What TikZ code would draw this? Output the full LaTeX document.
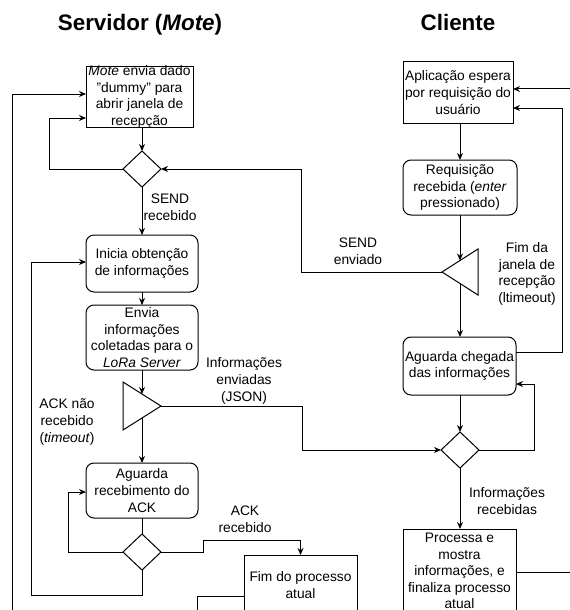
\documentclass[tikz,border=0pt]{standalone}
\usepackage{fontspec}
\setmainfont{Liberation Sans}
\usetikzlibrary{shapes.geometric,arrows.meta,calc}
\begin{document}
\begin{tikzpicture}[x=0.75pt,y=-0.75pt,
  flow/.style={line width=0.75pt,draw=black},
  arr/.style={flow,-{Stealth[length=5.25pt,width=4.5pt]}},
  sz/.style 2 args={minimum width=#1*0.75pt,minimum height=#2*0.75pt},
  sqbox/.style={rectangle,draw,line width=0.75pt,fill=white,inner sep=0pt,outer sep=0pt},
  rbox/.style={sqbox,rounded corners=6pt},
  dec/.style={diamond,draw,line width=0.75pt,fill=white,inner sep=0pt,outer sep=0pt,sz={38}{36}},
  tri/.style={isosceles triangle,isosceles triangle stretches,draw,line width=0.75pt,
    fill=white,inner sep=0pt,outer sep=0pt},
  txt/.style={align=center,font=\fontsize{10.35}{12.45}\selectfont,inner sep=0pt},
  ttl/.style={font=\fontsize{16.8}{20}\selectfont\bfseries,inner sep=0pt}]
\useasboundingbox (0,0) rectangle (570,610);
\clip (0,0) rectangle (570,610);

% column titles
\node[ttl,anchor=base] (tserv) at (140,31) {Servidor (\textit{Mote})};
\node[ttl,anchor=base] (tcli) at (458,31) {Cliente};

% server side
\node[sqbox,sz={107}{60}] (b1) at (139.5,97) {};
\node[txt] (b1t) at (b1) {\textit{Mote} envia dado\\"dummy" para\\abrir janela de\\recepção};
\node[dec] (d1) at (142,169) {};
\node[rbox,sz={112}{57}] (b2) at (142,263.5) {};
\node[txt] (b2t) at (b2) {Inicia obtenção\\de informações};
\node[rbox,sz={112}{65}] (b3) at (142,337.5) {};
\node[txt] (b3t) at (b3) {Envia\\informações\\coletadas para o\\\textit{LoRa Server}};
\node[tri,shape border rotate=0,minimum height=38*0.75pt,minimum width=48*0.75pt,anchor=apex] (t2) at (161,406) {};
\node[rbox,sz={112}{55}] (b4) at (142,490.5) {};
\node[txt] (b4t) at (b4) {Aguarda\\recebimento do\\ACK};
\node[dec] (d4) at (142,552) {};
\node[sqbox,sz={113}{60}] (b5) at (300.5,585) {};
\node[txt] (b5t) at (b5) {Fim do processo\\atual};

% client side
\node[sqbox,sz={110}{61}] (bA) at (458,92.5) {};
\node[txt] (bAt) at (bA) {Aplicação espera\\por requisição do\\usuário};
\node[rbox,sz={114}{55}] (bB) at (460,187.5) {};
\node[txt] (bBt) at (bB) {Requisição\\recebida (\textit{enter}\\pressionado)};
\node[tri,shape border rotate=180,minimum height=36*0.75pt,minimum width=46*0.75pt,anchor=apex] (t1) at (442,272) {};
\node[rbox,sz={113}{58}] (bC) at (459.5,366) {};
\node[txt] (bCt) at (bC) {Aguarda chegada\\das informações};
\node[dec] (d3) at (460,450) {};
\node[sqbox,sz={113}{84}] (bD) at (459.5,571) {};
\node[txt] (bDt) at (bD) {Processa e\\mostra\\informações, e\\finaliza processo\\atual};

% free ends at the picture border
\coordinate (lbot) at (12,625);
\coordinate (mbot) at (197,625);
\coordinate (redge1) at (580,89);
\coordinate (redge2) at (580,572);

% server connectors
\draw[arr] (b1.south -| d1.north) -- (d1.north);
\draw[arr] (d1.west) -| ($(b1.west)+(-37,21)$) -- ($(b1.west)+(0,21)$);
\draw[arr] (d1.south) -- (b2.north);
\draw[arr] (t1.apex) -| ($(d1.east)+(140,0)$) -- (d1.east);
\draw[arr] (b2.south) -- (b3.north);
\draw[arr] (b3.south) -- (b3.south |- t2.left side);
\draw[arr] (b4.north |- t2.right side) -- (b4.north);
\draw[arr] (t2.apex) -| ($(d3.west)+(-139,0)$) -- (d3.west);
\draw[flow] (b4.south) -- (d4.north);
\draw[arr] (d4.west) -| ($(b4.west)+(-18,1.5)$) -- ($(b4.west)+(0,1.5)$);
\draw[arr] (d4.south) -- ++(0,25) -| ($(b2.west)+(-55,-1.5)$) -- ($(b2.west)+(0,-1.5)$);
\draw[arr] (d4.east) -- ++(42,0) |- ($(b5.north)+(0,-15)$) -- (b5.north);
\draw[arr] (lbot) |- ($(b1.west)+(0,-3)$);
\draw[flow] (mbot) |- ($(b5.west)+(0,11)$);

% client connectors
\draw[arr] (redge1) -- (redge1 -| bA.east);
\draw[arr] ($(bC.east)+(0,-14)$) -| ($(bA.east)+(49,15.5)$) -- ($(bA.east)+(0,15.5)$);
\draw[arr] (bA.south -| bB.north) -- (bB.north);
\draw[arr] (bB.south) -- (bB.south |- t1.right side);
\draw[arr] (t1.left side) -- (t1.left side |- bC.north);
\draw[arr] (bC.south -| d3.north) -- (d3.north);
\draw[arr] (d3.east) -| ($(bC.east)+(18,18)$) -- ($(bC.east)+(0,18)$);
\draw[arr] (d3.south) -- (d3.south |- bD.north);
\draw[flow] ($(bD.east)+(0,1)$) -- (redge2);

% connector labels
\node[txt] (lsr) at (170,207.5) {SEND\\recebido};
\node[txt] (lse) at (358,251) {SEND\\enviado};
\node[txt] (lack) at (67,422) {ACK não\\recebido\\(\textit{timeout})};
\node[txt] (linf) at (244,381) {Informações\\enviadas\\(JSON)};
\node[txt] (lackr) at (245,519) {ACK\\recebido};
\node[txt] (lfim) at (527,274) {Fim da\\janela de\\recepção\\(ltimeout)};
\node[txt] (lrec) at (507,501) {Informações\\recebidas};
\end{tikzpicture}
\end{document}
